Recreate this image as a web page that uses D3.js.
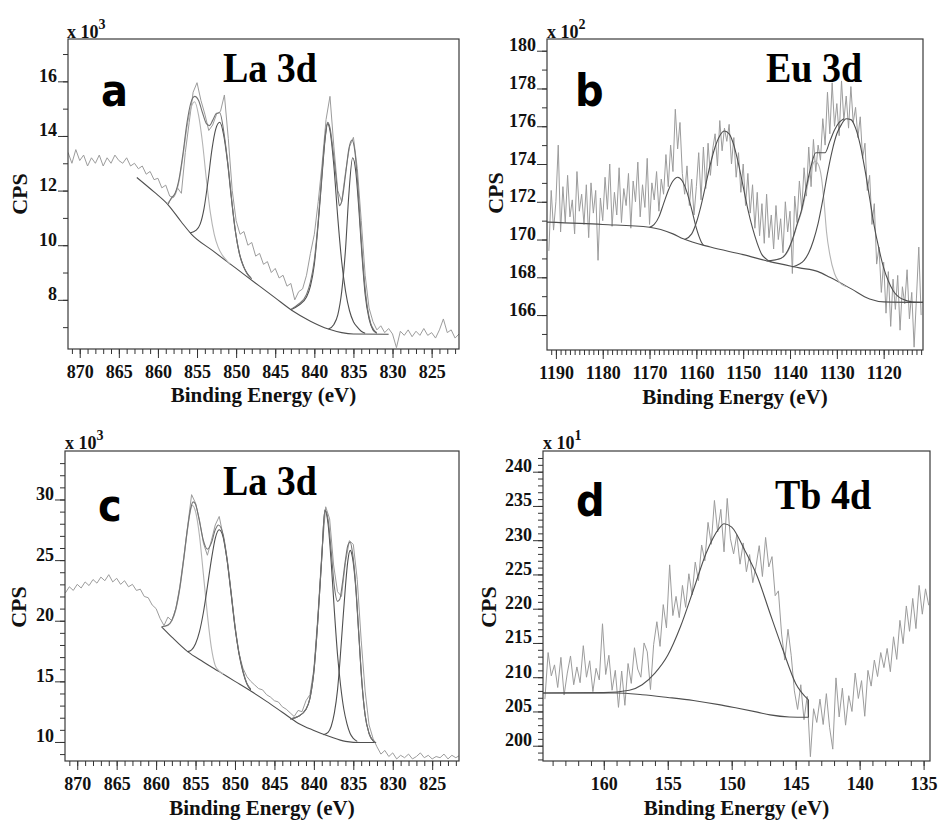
<!DOCTYPE html>
<html>
<head>
<meta charset="utf-8">
<script src="https://cdn.jsdelivr.net/npm/d3@7"></script>
<style>
  body { margin: 0; background: #fff; }
</style>
</head>
<body>
<div id="chart"></div>
<script>
// ---------- panel a : La 3d (x 10^3 CPS) ----------
var aRawStart = 871.5, aRawStep = 0.5;
var aRaw = [13.4, 13.0, 13.5, 13.1, 13.3, 12.9, 13.2, 13.0, 13.3, 12.9,
            13.2, 13.0, 13.3, 13.1, 13.0, 13.2, 12.9, 13.0, 12.8, 12.9,
            12.6, 12.7, 12.4, 12.45, 12.1, 12.2, 11.8, 11.75, 12.1, 11.9,
            13.4, 14.5, 15.6, 15.95, 15.3, 14.8, 14.2, 14.4, 14.8, 14.9,
            15.5, 13.9, 12.0, 10.9, 10.4, 10.5, 10.0, 10.1, 9.6, 9.7,
            9.3, 9.4, 9.0, 9.15, 8.8, 8.9, 8.5, 8.6, 8.0, 8.3,
            8.4, 8.9, 9.7, 10.4, 11.6, 13.0, 14.6, 15.45, 13.6, 12.0,
            11.6, 12.7, 13.6, 13.95, 12.8, 10.9, 8.9, 7.7, 7.2, 6.9,
            7.05, 6.8, 6.95, 6.75, 6.25, 6.85, 6.7, 6.9, 6.65, 6.85,
            6.7, 6.95, 6.7, 6.8, 6.6, 6.9, 7.3, 6.8, 6.9, 6.6,
            6.75];
var aBackground = [[862.7,12.48],[860.5,11.95],[858.7,11.48],[857,10.85],[855.7,10.4],[853,9.8],[850,9.15],
                   [847,8.5],[845,8.07],[842.9,7.62],[840.5,7.22],[838.2,6.93],[836.5,6.8],[835,6.75],[830.5,6.74]];
var aPeak1 = [[858.8,11.52],[858.3,11.7],[857.8,11.85],[857.3,12.35],[856.8,13.25],[856.3,14.3],[855.8,15.0],
              [855.3,15.25],[854.8,14.75],[854.3,13.75],[853.8,12.4],[853.3,11.2],[852.8,10.4],[852.3,9.93],
              [851.8,9.65],[851.3,9.47],[850.8,9.3]];
var aPeak2 = [[855.9,10.45],[855.1,10.55],[854.6,10.77],[854.1,11.35],[853.6,12.34],[853.1,13.49],[852.6,14.26],
              [852.1,14.5],[851.6,14.05],[851.1,13.04],[850.6,11.7],[850.1,10.51],[849.6,9.72],[849.1,9.26],
              [848.6,8.97],[848.1,8.8]];
var aEnvelope1 = [[858.7,11.5],[858.3,11.72],[857.8,11.9],[857.3,12.42],[856.8,13.35],[856.3,14.45],[855.8,15.2],
                  [855.3,15.45],[854.8,15.3],[854.3,14.85],[853.8,14.45],[853.4,14.38],[853,14.57],[852.5,14.83],
                  [852.1,14.85],[851.5,14.0],[851,12.85],[850.5,11.47],[850,10.34],[849.5,9.59],[849,9.18],
                  [848.5,8.92],[848,8.77]];
var aPeak3 = [[843,7.64],[842,7.8],[841,8.1],[840.5,8.5],[840,9.3],[839.5,10.8],[839,12.6],[838.6,13.95],
              [838.3,14.45],[838,14.2],[837.5,12.9],[837,11.0],[836.5,9.4],[836,8.3],[835.5,7.6],[835,7.2],
              [834.5,7.0],[834,6.85],[833.5,6.78]];
var aPeak4 = [[838.2,6.93],[837.5,7.1],[837,7.45],[836.5,8.3],[836,9.9],[835.6,11.8],[835.1,13.2],[834.7,12.7],
              [834.3,11.3],[833.9,9.6],[833.5,8.2],[833,7.3],[832.5,6.9],[832,6.78]];
var aEnvelope2 = [[843,7.65],[842,7.85],[841,8.2],[840.5,8.65],[840,9.45],[839.5,10.9],[839,12.7],[838.6,14.0],
                  [838.3,14.5],[838,14.3],[837.5,13.2],[837,11.9],[836.8,11.45],[836.5,11.6],[836,12.6],
                  [835.6,13.5],[835.2,13.85],[834.8,13.4],[834.4,12.0],[834,10.2],[833.6,8.7],[833.2,7.7],
                  [832.8,7.15],[832.4,6.9],[832,6.8]];
var aXTicks = [870, 865, 860, 855, 850, 845, 840, 835, 830, 825];
var aYTicks = [8, 10, 12, 14, 16];

// ---------- panel b : Eu 3d (x 10^2 CPS) ----------
var bRawStart = 1191.5, bRawStep = 0.5;
var bRaw = [169.4, 172.6, 170.5, 172.0, 175.0, 170.4, 172.8, 170.9, 173.4, 171.2,
            172.1, 170.3, 173.6, 171.5, 172.4, 170.8, 172.9, 170.1, 173.0, 171.4,
            172.6, 168.9, 172.2, 171.0, 173.3, 171.6, 174.0, 170.7, 172.5, 171.3,
            173.8, 170.9, 172.7, 171.8, 173.5, 170.6, 173.1, 172.0, 174.1, 171.2,
            172.9, 171.7, 174.3, 170.8, 173.0, 172.1, 173.6, 171.5, 173.2, 172.4,
            174.5, 172.8, 175.0, 173.6, 176.9, 174.8, 176.2, 173.5, 172.4, 173.9,
            171.8, 173.2, 171.3, 172.8, 174.6, 172.1, 174.9, 172.7, 175.1, 173.4,
            174.8, 175.6, 173.9, 176.3, 174.7, 175.9, 175.2, 176.1, 174.0, 175.4,
            173.3, 174.6, 172.5, 174.0, 171.8, 173.5, 171.4, 172.9, 170.6, 172.5,
            170.2, 171.9, 169.8, 172.4, 170.1, 171.3, 169.5, 171.8, 170.0, 171.1,
            169.3, 172.0, 170.4, 171.5, 168.2, 172.3, 170.9, 173.1, 171.6, 173.8,
            172.3, 174.9, 172.8, 175.3, 173.6, 175.0, 174.2, 176.4, 175.0, 177.8,
            175.6, 178.3, 176.0, 177.2, 175.5, 178.4, 176.3, 177.6, 175.9, 178.1,
            176.2, 177.0, 175.4, 176.5, 174.3, 175.1, 172.6, 173.4, 170.8, 171.9,
            168.7, 169.6, 167.2, 168.8, 166.1, 168.3, 165.4, 167.9, 166.3, 168.1,
            165.2, 167.5, 166.6, 168.4, 165.8, 167.2, 164.3, 166.9, 169.6, 166.0];
var bBackground = [[1191.9,170.92],[1180,170.8],[1170,170.65],[1165,170.3],[1162.8,170.04],[1157,169.6],
                   [1150,169.2],[1144.3,168.83],[1138,168.5],[1134,168.3],[1131.5,168.0],[1127,167.4],
                   [1123,166.85],[1120,166.7],[1111.6,166.67]];
var bPeak1 = [[1170,170.65],[1169,170.8],[1168,171.2],[1167,171.9],[1166,172.6],[1165,173.1],[1164,173.3],
              [1163,173.1],[1162,172.5],[1161,171.6],[1160,170.6],[1159,169.9],[1158.5,169.7]];
var bPeak2 = [[1162.5,170.0],[1161,170.3],[1160,170.9],[1159,171.8],[1158,172.9],[1157,174.0],[1156,174.9],
              [1155,175.5],[1154,175.75],[1153,175.6],[1152,175.0],[1151,174.0],[1150,172.8],[1149,171.6],
              [1148,170.6],[1147,169.8],[1146,169.2],[1145,168.95],[1144,168.82]];
var bPeak3 = [[1145,168.87],[1142,169.0],[1140.5,169.35],[1139.5,169.95],[1138.5,170.75],[1137.5,171.5],
              [1136.5,172.6],[1135.5,173.7],[1134.7,174.15],[1134,174.0],[1133.3,173.3],[1132.7,171.9],
              [1132.2,170.4],[1131.5,169.2],[1130.5,168.2],[1129.5,167.75],[1128,167.5]];
var bPeak4 = [[1139.5,168.55],[1138,168.7],[1137,168.9],[1136,169.3],[1135,169.95],[1134,170.85],[1133,172.1],
              [1132,173.5],[1131,174.7],[1130,175.6],[1129,176.1],[1128,176.4],[1127,176.35],[1126,175.9],
              [1125,175.0],[1124,173.7],[1123,172.2],[1122,170.7],[1121,169.5],[1120,168.5],[1119,167.8],
              [1118,167.3],[1117,167.0],[1116,166.85],[1114,166.7],[1111.6,166.67]];
var bEnvelope = [[1145,168.87],[1142,169.0],[1140.5,169.4],[1139.5,170.0],[1138.5,170.8],[1137.5,171.6],
                 [1136.5,172.8],[1135.5,173.9],[1134.5,174.6],[1132.5,174.6],[1131.5,175.2],[1130.5,175.8],
                 [1129.5,176.2],[1128.5,176.4]];
var bXTicks = [1190, 1180, 1170, 1160, 1150, 1140, 1130, 1120];
var bYTicks = [166, 168, 170, 172, 174, 176, 178, 180];

// ---------- panel c : La 3d (x 10^3 CPS) ----------
var cRawStart = 871.5, cRawStep = 0.5;
var cRaw = [22.3, 22.8, 22.5, 23.0, 22.7, 23.2, 22.9, 23.4, 23.1, 23.6,
            23.3, 23.8, 23.2, 23.5, 23.0, 23.3, 22.8, 23.0, 22.5, 22.6,
            22.0, 21.9, 21.3, 21.0, 20.2, 19.6, 20.3, 20.0, 21.0, 22.8,
            25.2, 27.8, 30.4, 29.7, 28.3, 26.4, 25.4, 26.6, 27.9, 28.6,
            27.0, 25.0, 22.3, 19.4, 17.3, 16.1, 15.4, 15.0, 14.7, 14.4,
            14.3, 13.9, 13.7, 13.4, 13.3, 12.9, 12.7, 12.4, 12.1, 12.6,
            12.5, 13.4, 13.9, 16.0, 20.3, 25.5, 29.4, 28.4, 24.6, 22.4,
            22.0, 24.8, 26.6, 26.3, 23.4, 18.4, 14.2, 11.4, 10.3, 9.6,
            9.0, 9.3, 8.8, 9.1, 8.6, 8.9, 8.7, 9.0, 8.6, 8.8,
            9.1, 8.7, 8.9, 8.6, 8.8, 8.7, 9.0, 8.6, 8.9, 8.7,
            8.9];
var cBackground = [[859.3,19.5],[858,18.65],[856,17.45],[854,16.6],[852,15.8],[850,15.0],[848,14.2],[846,13.35],
                   [844,12.45],[842,11.55],[840,10.95],[838,10.45],[836,10.05],[834,9.95],[832.1,9.95]];
var cPeak1 = [[859.3,19.5],[858.5,19.6],[858,20.0],[857.5,20.9],[857,22.6],[856.5,25.0],[856,27.6],[855.7,28.9],
              [855.4,29.5],[855,29.0],[854.5,27.0],[854,23.8],[853.5,20.5],[853,17.8],[852.5,16.3],[852,15.85],
              [851.5,15.62]];
var cPeak2 = [[856,17.45],[855.5,17.6],[855,18.1],[854.5,19.1],[854,20.7],[853.5,22.8],[853,25.0],[852.5,26.8],
              [852,27.5],[851.5,26.9],[851,25.0],[850.5,22.3],[850,19.5],[849.5,17.3],[849,15.8],[848.5,14.8],
              [848,14.3]];
var cEnvelope1 = [[859.3,19.5],[858.5,19.65],[858,20.05],[857.5,21.0],[857,22.7],[856.5,25.1],[856,27.7],
                  [855.6,29.3],[855.3,29.8],[855,29.6],[854.5,28.2],[854,26.6],[853.5,25.9],[853,26.4],
                  [852.5,27.5],[852.1,27.9],[851.5,27.1],[851,25.1],[850.5,22.4],[850,19.6],[849.5,17.4],
                  [849,15.9],[848.5,14.85],[848,14.35]];
var cPeak3 = [[843,11.9],[842,12.1],[841,12.7],[840.5,13.6],[840,15.8],[839.5,20.0],[839,25.2],[838.6,29.1],
              [838.2,28.0],[837.8,24.8],[837.4,20.8],[837,17.2],[836.6,14.6],[836.2,12.7],[835.8,11.5],
              [835.4,10.7],[835,10.3],[834.5,10.05]];
var cPeak4 = [[838.8,10.6],[838.2,10.8],[837.8,11.3],[837.4,12.4],[837,14.3],[836.7,16.6],[836.4,19.3],[836,22.8],
              [835.7,24.9],[835.4,25.8],[835.1,25.2],[834.7,22.8],[834.3,18.8],[833.9,14.8],[833.5,12.2],
              [833,10.7],[832.5,10.1],[832.2,9.95]];
var cEnvelope2 = [[843,11.9],[842,12.1],[841,12.7],[840.5,13.6],[840,15.8],[839.5,20.0],[839,25.2],[838.6,29.15],
                  [838.2,28.35],[837.8,25.7],[837.4,22.8],[837,21.6],[836.7,21.8],[836.4,23.0],[836,25.0],
                  [835.7,26.2],[835.4,26.5],[835.1,25.6],[834.7,23.0],[834.3,18.9],[833.9,14.85],[833.5,12.2],
                  [833,10.7],[832.5,10.1],[832.2,9.95]];
var cXTicks = [870, 865, 860, 855, 850, 845, 840, 835, 830, 825];
var cYTicks = [10, 15, 20, 25, 30];

// ---------- panel d : Tb 4d (x 10^1 CPS) ----------
var dRawStart = 164.6, dRawStep = 0.25;
var dRaw = [206.8, 213.6, 210.2, 211.8, 208.5, 212.9, 207.4, 210.6, 213.1, 208.9,
            211.5, 209.2, 214.6, 210.0, 212.4, 207.9, 211.3, 209.6, 217.8, 210.4,
            213.2, 208.1, 211.0, 205.6, 210.9, 205.9, 212.0, 209.1, 214.3, 211.2,
            210.0, 215.0, 213.7, 208.2, 214.8, 218.1, 214.5, 220.6, 217.2, 226.4,
            219.0, 221.8, 218.7, 223.4, 220.2, 225.1, 222.0, 226.8, 224.1, 229.3,
            227.0, 232.6, 229.4, 235.8, 231.2, 234.5, 228.3, 236.1, 230.2, 228.0,
            230.8, 226.5, 229.6, 225.4, 227.9, 223.8, 226.2, 229.2, 224.7, 230.4,
            226.1, 227.6, 221.9, 222.6, 216.3, 212.5, 217.0, 213.2, 208.0, 205.3,
            208.9, 203.8, 207.2, 198.4, 205.4, 203.4, 206.8, 203.1, 207.6, 202.7,
            199.5, 209.9, 204.2, 208.4, 203.0, 207.3, 205.0, 210.6, 206.9, 209.5,
            204.3, 211.0, 208.7, 212.5, 210.1, 213.6, 211.4, 214.2, 210.8, 215.9,
            212.6, 218.3, 214.9, 220.4, 216.7, 221.5, 217.1, 223.4, 219.2, 222.9,
            220.5];
var dBackground = [[164.75,207.7],[159,207.7],[157,207.45],[155,207.05],[153,206.6],[151,206.0],[149.6,205.5],
                   [148,204.9],[147,204.5],[145.5,204.2],[144,204.15]];
var dEnvelope = [[164.75,207.7],[160,207.75],[158,208.1],[157,208.9],[156,210.6],[155,213.2],[154,217.4],
                 [153,222.7],[152,228.1],[151,231.7],[150.6,232.4],[150,231.9],[149,228.6],[148,224.7],
                 [147,219.3],[146,214.0],[145,209.1],[144,206.7]];
var dXTicks = [160, 155, 150, 145, 140, 135];
var dYTicks = [200, 205, 210, 215, 220, 225, 230, 235, 240];

// ---------- drawing ----------
var W = 941, H = 823;
var SERIF = "'Liberation Serif','Times New Roman',serif";
var SANS = "'DejaVu Sans',sans-serif";
var DARK = "#4f4f4f", LIGHT = "#b4b4b4", ENV = "#727272", RAWC = "#9c9c9c";

var panels = [
  { id: "a", letter: "a", title: "La 3d", exp: "3",
    box: { l: 68, t: 39, r: 459, b: 349 }, xDomain: [871.5, 821.5], yDomain: [6.2, 17.55],
    xTicks: aXTicks, xMinor: d3.range(822, 872), yTicks: aYTicks, yMinor: d3.range(7, 18),
    raw: aRaw, rawStart: aRawStart, rawStep: aRawStep,
    fits: [{ d: aBackground, c: DARK }, { d: aPeak1, c: LIGHT }, { d: aPeak2, c: DARK },
           { d: aPeak3, c: DARK }, { d: aPeak4, c: DARK }, { d: aEnvelope1, c: ENV }, { d: aEnvelope2, c: ENV }],
    letterAt: [101, 106], titleAt: [270, 82], expAt: [67, 38], cpsAt: [27, 194], xTitleY: 402 },
  { id: "b", letter: "b", title: "Eu 3d", exp: "2",
    box: { l: 547, t: 39, r: 923, b: 350 }, xDomain: [1191.9, 1111.6], yDomain: [164.15, 180.62],
    xTicks: bXTicks, xMinor: d3.range(1112, 1192), yTicks: bYTicks, yMinor: d3.range(165, 181),
    raw: bRaw, rawStart: bRawStart, rawStep: bRawStep,
    fits: [{ d: bBackground, c: DARK }, { d: bPeak1, c: DARK }, { d: bPeak2, c: DARK },
           { d: bPeak3, c: LIGHT }, { d: bPeak4, c: DARK }, { d: bEnvelope, c: DARK }],
    letterAt: [575, 106], titleAt: [814, 82], expAt: [547, 38], cpsAt: [503, 193], xTitleY: 404 },
  { id: "c", letter: "c", title: "La 3d", exp: "3",
    box: { l: 65, t: 451, r: 459, b: 761 }, xDomain: [871.55, 821.6], yDomain: [8.43, 34.0],
    xTicks: cXTicks, xMinor: d3.range(822, 872), yTicks: cYTicks, yMinor: d3.range(9, 34),
    raw: cRaw, rawStart: cRawStart, rawStep: cRawStep,
    fits: [{ d: cBackground, c: DARK }, { d: cPeak1, c: LIGHT }, { d: cPeak2, c: DARK },
           { d: cPeak3, c: DARK }, { d: cPeak4, c: DARK }, { d: cEnvelope1, c: ENV }, { d: cEnvelope2, c: ENV }],
    letterAt: [98, 521], titleAt: [270, 495], expAt: [65, 449], cpsAt: [26, 607], xTitleY: 815 },
  { id: "d", letter: "d", title: "Tb 4d", exp: "1",
    box: { l: 543, t: 451, r: 930, b: 761 }, xDomain: [164.75, 134.5], yDomain: [197.77, 243.02],
    xTicks: dXTicks, xMinor: d3.range(135, 165), yTicks: dYTicks, yMinor: d3.range(198, 243),
    raw: dRaw, rawStart: dRawStart, rawStep: dRawStep,
    fits: [{ d: dBackground, c: DARK }, { d: dEnvelope, c: DARK, dropTo: dBackground }],
    letterAt: [576, 516], titleAt: [823, 509], expAt: [543, 449], cpsAt: [496, 607], xTitleY: 815 }
];

var svg = d3.select("#chart").append("svg")
  .attr("width", W).attr("height", H)
  .style("display", "block")
  .style("background", "#fff");

function drawPanel(p) {
  var x = d3.scaleLinear().domain(p.xDomain).range([p.box.l, p.box.r]);
  var y = d3.scaleLinear().domain(p.yDomain).range([p.box.b, p.box.t]);
  var g = svg.append("g").attr("class", "panel-" + p.id);

  g.append("clipPath").attr("id", "clip-" + p.id)
    .append("rect")
    .attr("x", p.box.l).attr("y", p.box.t)
    .attr("width", p.box.r - p.box.l).attr("height", p.box.b - p.box.t);

  var plot = g.append("g").attr("clip-path", "url(#clip-" + p.id + ")");

  // measured spectrum
  var rawPts = p.raw.map(function(v, i) { return [p.rawStart - i * p.rawStep, v]; });
  var rawLine = d3.line()
    .x(function(d) { return x(d[0]); })
    .y(function(d) { return y(d[1]); });
  plot.append("path")
    .datum(rawPts)
    .attr("d", rawLine)
    .attr("fill", "none")
    .attr("stroke", RAWC)
    .attr("stroke-width", 1);

  // background, components and envelopes
  var fitLine = d3.line()
    .x(function(d) { return x(d[0]); })
    .y(function(d) { return y(d[1]); })
    .curve(d3.curveMonotoneX);
  p.fits.forEach(function(f) {
    plot.append("path")
      .datum(f.d)
      .attr("d", fitLine)
      .attr("fill", "none")
      .attr("stroke", f.c)
      .attr("stroke-width", 1.1);
    if (f.dropTo) {
      var last = f.d[f.d.length - 1], base = f.dropTo[f.dropTo.length - 1];
      plot.append("path")
        .datum([last, [last[0], base[1]]])
        .attr("d", rawLine)
        .attr("fill", "none")
        .attr("stroke", f.c)
        .attr("stroke-width", 1.1);
    }
  });

  // frame
  g.append("rect")
    .attr("x", p.box.l).attr("y", p.box.t)
    .attr("width", p.box.r - p.box.l).attr("height", p.box.b - p.box.t)
    .attr("fill", "none")
    .attr("stroke", "#3a3a3a")
    .attr("stroke-width", 1.2);

  // x axis
  var xMinor = d3.axisBottom(x).tickValues(p.xMinor).tickSize(5).tickFormat("");
  var xMajor = d3.axisBottom(x).tickValues(p.xTicks).tickSize(9).tickPadding(7).tickFormat(d3.format("d"));
  [xMinor, xMajor].forEach(function(ax) {
    var ag = g.append("g")
      .attr("transform", "translate(0," + p.box.b + ")")
      .call(ax);
    ag.select(".domain").remove();
    ag.attr("color", "#333")
      .attr("font-family", SERIF)
      .attr("font-size", 18)
      .attr("font-weight", "bold");
    ag.selectAll("text").attr("fill", "#111");
  });

  // y axis
  var yMinor = d3.axisLeft(y).tickValues(p.yMinor).tickSize(5).tickFormat("");
  var yMajor = d3.axisLeft(y).tickValues(p.yTicks).tickSize(10).tickPadding(1).tickFormat(d3.format("d"));
  [yMinor, yMajor].forEach(function(ax) {
    var ag = g.append("g")
      .attr("transform", "translate(" + p.box.l + ",0)")
      .call(ax);
    ag.select(".domain").remove();
    ag.attr("color", "#333")
      .attr("font-family", SERIF)
      .attr("font-size", 18)
      .attr("font-weight", "bold");
    ag.selectAll("text").attr("dy", "0").attr("fill", "#111");
  });

  // exponent label
  var ex = g.append("text")
    .attr("x", p.expAt[0]).attr("y", p.expAt[1])
    .attr("font-family", SERIF).attr("font-weight", "bold").attr("font-size", 18)
    .attr("fill", "#111")
    .text("x 10");
  ex.append("tspan").attr("dy", -9).attr("font-size", 14).text(p.exp);

  // axis titles
  g.append("text")
    .attr("x", (p.box.l + p.box.r) / 2).attr("y", p.xTitleY)
    .attr("text-anchor", "middle")
    .attr("font-family", SERIF).attr("font-weight", "bold").attr("font-size", 21)
    .attr("fill", "#111")
    .text("Binding Energy (eV)");
  g.append("text")
    .attr("transform", "translate(" + p.cpsAt[0] + "," + p.cpsAt[1] + ") rotate(-90)")
    .attr("text-anchor", "middle")
    .attr("font-family", SERIF).attr("font-weight", "bold").attr("font-size", 22)
    .attr("fill", "#111")
    .text("CPS");

  // panel letter and element title
  g.append("text")
    .attr("transform", "translate(" + p.letterAt[0] + "," + p.letterAt[1] + ") scale(1,1.13)")
    .attr("font-family", SANS).attr("font-weight", "bold").attr("font-size", 40)
    .attr("fill", "#000")
    .text(p.letter);
  g.append("text")
    .attr("transform", "translate(" + p.titleAt[0] + "," + p.titleAt[1] + ") scale(1,1.1)")
    .attr("text-anchor", "middle")
    .attr("font-family", SERIF).attr("font-weight", "bold").attr("font-size", 38)
    .attr("fill", "#000")
    .text(p.title);
}

panels.forEach(drawPanel);
</script>
</body>
</html>
